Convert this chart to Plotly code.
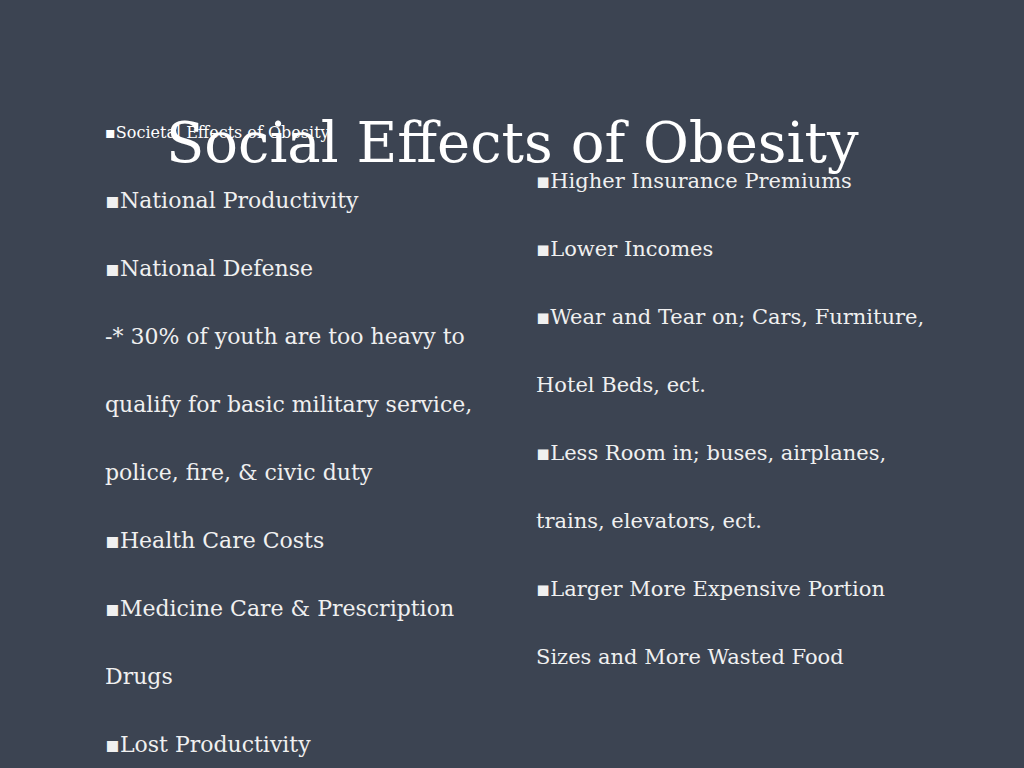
import plotly.graph_objects as go

title = "Social Effects of Obesity"
subtitle = "▪Societal Effects of Obesity"
left_lines = ["▪National Productivity", "▪National Defense", "-* 30% of youth are too heavy to",
              "qualify for basic military service,", "police, fire, & civic duty", "▪Health Care Costs",
              "▪Medicine Care & Prescription", "Drugs", "▪Lost Productivity"]
right_lines = ["▪Higher Insurance Premiums", "▪Lower Incomes", "▪Wear and Tear on; Cars, Furniture,",
               "Hotel Beds, ect.", "▪Less Room in; buses, airplanes,", "trains, elevators, ect.",
               "▪Larger More Expensive Portion", "Sizes and More Wasted Food"]

F = "DejaVu Serif, serif"
fig = go.Figure()
fig.add_trace(go.Scatter(x=[0, 1024], y=[0, 768], mode="markers", marker=dict(opacity=0), hoverinfo="skip"))
ann = []
ann.append(dict(x=512, y=142, text=title, showarrow=False, xanchor="center", yanchor="middle",
                font=dict(family=F, size=56, color="#ffffff")))
ann.append(dict(x=103, y=132, text=subtitle, showarrow=False, xanchor="left", yanchor="middle",
                font=dict(family=F, size=16, color="#ffffff")))
for i, t in enumerate(left_lines):
    ann.append(dict(x=103, y=200 + 68 * i, text=t, showarrow=False, xanchor="left", yanchor="middle",
                    font=dict(family=F, size=22, color="#f0f0f0")))
for i, t in enumerate(right_lines):
    ann.append(dict(x=534, y=181 + 68 * i, text=t, showarrow=False, xanchor="left", yanchor="middle",
                    font=dict(family=F, size=21, color="#f0f0f0")))
fig.update_layout(width=1024, height=768, margin=dict(l=0, r=0, t=0, b=0),
                  paper_bgcolor="#3c4452", plot_bgcolor="#3c4452", showlegend=False,
                  xaxis=dict(range=[0, 1024], visible=False, fixedrange=True),
                  yaxis=dict(range=[768, 0], visible=False, fixedrange=True),
                  annotations=ann)
fig.write_html("out.html", config={"displayModeBar": False})
with open("out.html") as f:
    html = f.read()
html = html.replace("<head>", "<head><style>html,body{margin:0;padding:0;overflow:hidden;background:#3c4452}</style>", 1)
with open("out.html", "w") as f:
    f.write(html)
